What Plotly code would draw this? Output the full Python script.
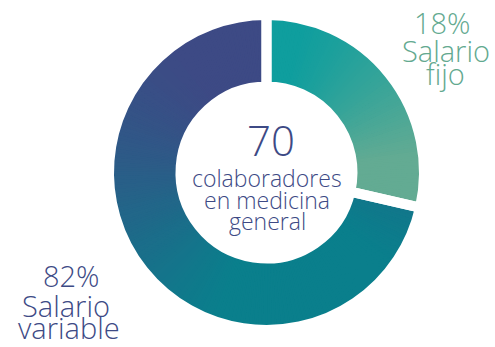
import numpy as np
import plotly.graph_objects as go

# ---- data ----
categories = ["Salario fijo", "Salario variable"]
counts = [20, 50]                 # colaboradores por tipo (total 70)
pct_labels = ["18%", "82%"]
name_lines = [["Salario", "fijo"], ["Salario", "variable"]]
total_label = "70"
center_lines = ["colaboradores", "en medicina", "general"]

# ---- style ----
W, H = 495, 347
FONT = "Open Sans"
NAVY = "#3d4a85"
GREEN_TXT = "#63a98f"
grad_stops = [  # (start colour, end colour, p-offset, p-span) per category
    ((0x0f, 0x9e, 0x9e), (0x63, 0xab, 0x93), 0.85, 1.05),
    ((0x3d, 0x4a, 0x85), (0x0a, 0x7f, 0x8c), 0.95, 1.75),
]
cx, cy = 266.5, 172.5
gap_w = 10
R = 152.5 + gap_w / 2
hole = (91 - gap_w / 2) / R
dom_x = [(cx - R) / W, (cx + R) / W]
dom_y = [(H - cy - R) / H, (H - cy + R) / H]

# gradient approximation: split every category into thin wedges
d = np.array([0.3, -0.95])
sub_vals, sub_cols = [], []
total = sum(counts)
start = 0.0
for i, v in enumerate(counts):
    n = int(v * 3)
    c0, c1, off, span = grad_stops[i]
    for k in range(n):
        a0 = start + v * k / n
        mid = (a0 + v / (2 * n)) / total * 2 * np.pi
        p = np.sin(mid) * d[0] + np.cos(mid) * d[1]
        t = min(max((p + off) / span, 0), 1)
        col = tuple(int(round(c0[j] + (c1[j] - c0[j]) * t)) for j in range(3))
        sub_vals.append(v / n)
        sub_cols.append("rgb(%d,%d,%d)" % col)
    start += v

fig = go.Figure()
fig.add_trace(go.Pie(
    values=sub_vals, sort=False, direction="clockwise", rotation=0,
    hole=hole, domain=dict(x=dom_x, y=dom_y),
    marker=dict(colors=sub_cols, line=dict(color=sub_cols, width=1.5)),
    textinfo="none", hoverinfo="skip", showlegend=False,
))
fig.add_trace(go.Pie(
    values=counts, labels=categories, sort=False, direction="clockwise", rotation=0,
    hole=hole, domain=dict(x=dom_x, y=dom_y),
    marker=dict(colors=["rgba(0,0,0,0)"] * 2, line=dict(color="white", width=gap_w)),
    textinfo="none", showlegend=False,
))

def ann(text, x, y_base, size, color):
    fig.add_annotation(text=text, x=x / W, y=1 - (y_base - 0.32 * size) / H,
                       xref="paper", yref="paper", xanchor="center", yanchor="middle",
                       showarrow=False,
                       font=dict(family=FONT, size=size, color=color, weight=300))

ann(total_label, 271, 153, 42, NAVY)
for line, xb, yb in zip(center_lines, [267, 266.5, 267], [185, 207, 228]):
    ann(line, xb, yb, 23, NAVY)

ann(pct_labels[0], 442, 32, 29, GREEN_TXT)
for line, xb, yb in zip(name_lines[0], [446, 445], [60, 83]):
    ann(line, xb, yb, 29, GREEN_TXT)

ann(pct_labels[1], 71, 285, 29, NAVY)
for line, xb, yb in zip(name_lines[1], [65.5, 69], [315, 337]):
    ann(line, xb, yb, 29, NAVY)

fig.update_layout(width=W, height=H, margin=dict(l=0, r=0, t=0, b=0),
                  paper_bgcolor="white", plot_bgcolor="white")
fig.write_html("out.html")
